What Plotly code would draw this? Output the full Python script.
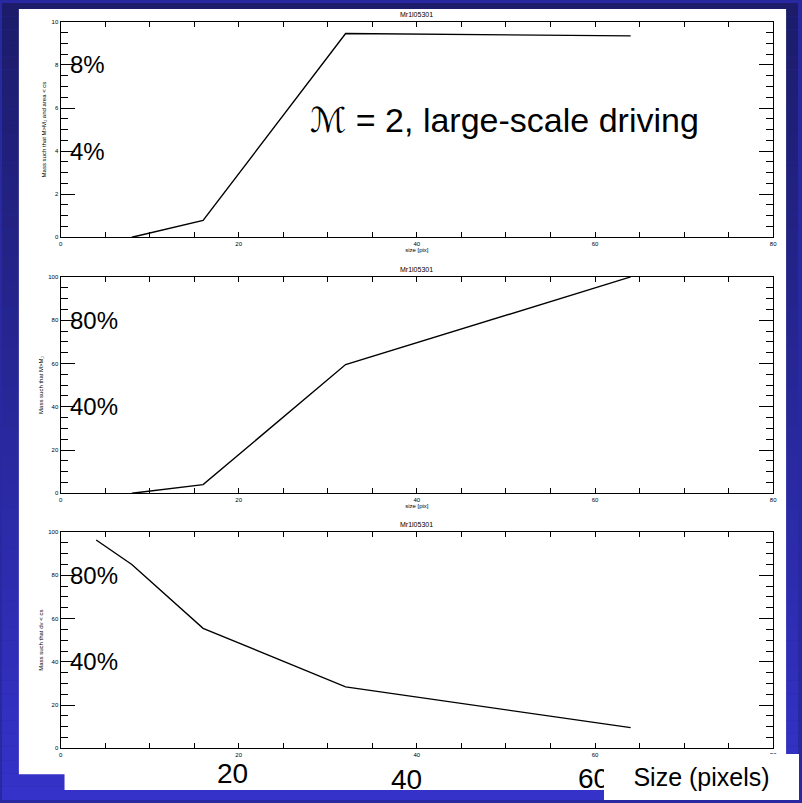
import plotly.graph_objects as go

W, H = 802, 803

# ---- data ----
size_p1 = [8, 16, 32, 64]
mass_p1 = [0.0, 0.78, 9.46, 9.35]

size_p2 = [8, 16, 32, 64]
mass_p2 = [0.0, 4.0, 59.5, 100.0]

size_p3 = [4, 8, 16, 32, 64]
mass_p3 = [96.3, 85.0, 55.5, 28.4, 9.6]

panel_title = "Mr1l05301"
x_title = "size [pix]"
y_titles = ["Mass such that M>M<sub>J</sub> and area < cs",
            "Mass such that M>M<sub>J</sub>",
            "Mass such that dv < cs"]
y_ranges = [[0, 10], [0, 100], [0, 100]]
y_dticks = [2, 20, 20]
y_minor = [0.5, 5, 5]
pct_labels = [["8%", "4%"], ["80%", "40%"], ["80%", "40%"]]
pct_vals = [[8, 4], [80, 40], [80, 40]]
big_x_labels = ["20", "40", "60"]

def px(x):
    return x / W

def py(y):
    return 1 - y / H

fig = go.Figure()
series = [(size_p1, mass_p1), (size_p2, mass_p2), (size_p3, mass_p3)]
for i, (xs, ys) in enumerate(series):
    fig.add_trace(go.Scatter(x=xs, y=ys, mode="lines",
                             line=dict(color="black", width=1.4),
                             xaxis="x" if i == 0 else f"x{i+1}",
                             yaxis="y" if i == 0 else f"y{i+1}",
                             showlegend=False, hoverinfo="skip"))

# panel geometry (pixels)
panels = [(19, 236), (276, 494), (533, 751)]
xl, xr = 59, 777

layout = dict(width=W, height=H, margin=dict(l=0, r=0, t=0, b=0),
              paper_bgcolor="rgb(40,40,160)", plot_bgcolor="white",
              showlegend=False)

tickfont = dict(family="Arial", size=6, color="black")
for i, (top, bot) in enumerate(panels):
    sx = "" if i == 0 else str(i + 1)
    xa = dict(
        domain=[px(xl), px(xr)], range=[0, 80], anchor=f"y{sx}",
        tickvals=[0, 20, 40, 60, 80], ticks="inside", ticklen=5,
        tickcolor="black", tickwidth=1,
        minor=dict(dtick=5, ticks="inside", ticklen=5, tickcolor="black"),
        showline=True, linecolor="black", linewidth=1.2, mirror="allticks",
        showgrid=False, zeroline=False, tickfont=tickfont,
        fixedrange=True)
    if i < 2:
        xa["title"] = dict(text=x_title, font=dict(family="Arial", size=6, color="black"),
                           standoff=0)
    layout[f"xaxis{sx}"] = xa
    layout[f"yaxis{sx}"] = dict(
        domain=[py(bot), py(top)], range=y_ranges[i], anchor=f"x{sx}",
        dtick=y_dticks[i], ticks="inside", ticklen=14, tickcolor="black", tickwidth=1,
        minor=dict(dtick=y_minor[i], ticks="inside", ticklen=7, tickcolor="black"),
        showline=True, linecolor="black", linewidth=1.2, mirror="allticks",
        showgrid=False, zeroline=False, tickfont=tickfont,
        title=dict(text=y_titles[i], font=dict(family="Arial", size=6, color="black"),
                   standoff=4),
        fixedrange=True)

# background gradient + white panels
shapes = []
nb = 60
c0 = (28, 28, 106)
c1 = (52, 50, 200)
for k in range(nb):
    t = k / (nb - 1)
    c = tuple(int(round(c0[j] + (c1[j] - c0[j]) * t)) for j in range(3))
    shapes.append(dict(type="rect", xref="paper", yref="paper", layer="below",
                       x0=0, x1=1, y0=1 - (k + 1) / nb, y1=1 - k / nb,
                       line=dict(width=0), fillcolor=f"rgb{c}"))
for (x0, y0, x1, y1) in [(17, 6, 790, 777), (63, 760, 607, 793)]:
    shapes.append(dict(type="rect", xref="paper", yref="paper", layer="below",
                       x0=px(x0), x1=px(x1), y0=py(y1), y1=py(y0),
                       line=dict(width=0), fillcolor="white"))
layout["shapes"] = shapes

ann = []
# panel titles
for i, (top, bot) in enumerate(panels):
    ann.append(dict(text=panel_title, xref="paper", yref="paper",
                    x=px((xl + xr) / 2), y=py(top - 2), xanchor="center", yanchor="bottom",
                    showarrow=False, font=dict(family="Arial", size=7, color="black")))
# percent labels
for i, (top, bot) in enumerate(panels):
    sx = "" if i == 0 else str(i + 1)
    for lab, v in zip(pct_labels[i], pct_vals[i]):
        ann.append(dict(text=lab, xref="paper", yref=f"y{sx}", x=px(66), y=v,
                        xanchor="left", yanchor="middle", showarrow=False,
                        font=dict(family="Liberation Sans, Arial", size=24, color="black")))
# main label
ann.append(dict(text="<i>ℳ</i> = 2, large-scale driving", xref="paper", yref="paper",
                x=px(308), y=py(118), xanchor="left", yanchor="middle", showarrow=False,
                font=dict(family="Liberation Sans, Arial, DejaVu Sans", size=34, color="black")))
# big x labels
for lab, (cx, cy) in zip(big_x_labels, [(232, 776), (408, 782), (596, 781)]):
    ann.append(dict(text=lab, xref="paper", yref="paper", x=px(cx), y=py(cy),
                    xanchor="center", yanchor="middle", showarrow=False,
                    font=dict(family="Liberation Sans, Arial", size=28, color="black")))
ann.append(dict(text="Size (pixels)", xref="paper", yref="paper",
                x=px(607), y=py(757), xanchor="left", yanchor="top", showarrow=False,
                width=195, height=46, bgcolor="white", borderpad=0, borderwidth=0,
                align="center", valign="middle",
                font=dict(family="Liberation Sans, Arial", size=25, color="black")))
layout["annotations"] = ann

fig.update_layout(**layout)
fig.write_html("out.html")
